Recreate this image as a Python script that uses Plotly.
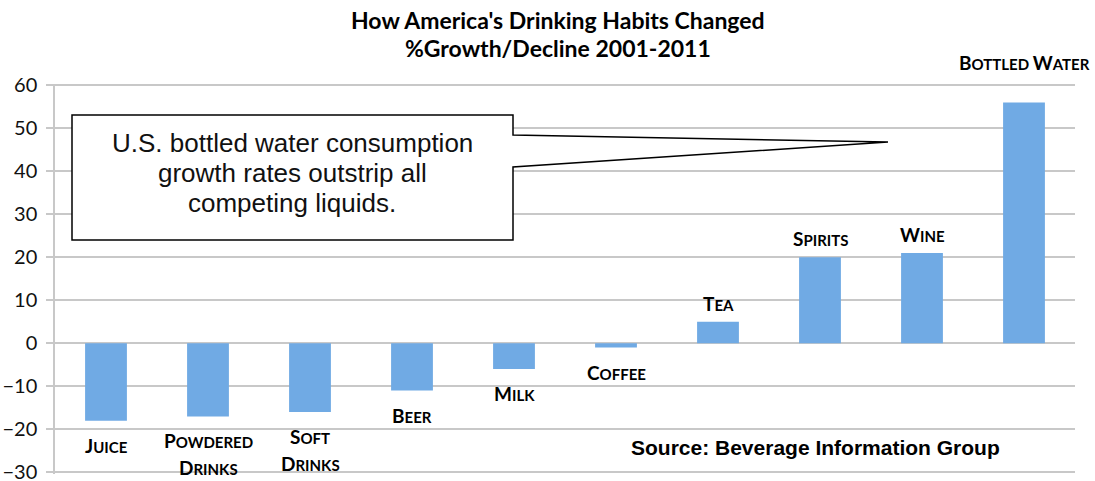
import plotly.graph_objects as go

# ---- data ----
categories = ["Juice", "Powdered Drinks", "Soft Drinks", "Beer", "Milk",
              "Coffee", "Tea", "Spirits", "Wine", "Bottled Water"]
values = [-18, -17, -16, -11, -6, -1, 5, 20, 21, 56]
# small-caps style labels: list of lines, each line (first letter, rest)
label_lines = [
    [("J", "UICE")],
    [("P", "OWDERED"), ("D", "RINKS")],
    [("S", "OFT"), ("D", "RINKS")],
    [("B", "EER")],
    [("M", "ILK")],
    [("C", "OFFEE")],
    [("T", "EA")],
    [("S", "PIRITS")],
    [("W", "INE")],
    [("B", "OTTLED "), ("W", "ATER")],
]
y_ticks = [-30, -20, -10, 0, 10, 20, 30, 40, 50, 60]
title_lines = ["How America's Drinking Habits Changed", "%Growth/Decline 2001-2011"]
callout_lines = ["U.S. bottled water consumption", "growth rates outstrip all", "competing liquids."]
source_text = "Source: Beverage Information Group"

W, H = 1095, 481
ML, MR, MT, MB = 55, 20, 84, 7
PW, PH = W - ML - MR, H - MT - MB
Y_RANGE = [-30.4, 60.3]


def px(x):
    return (x - ML) / PW


def py(y):
    return (H - MB - y) / PH


LABEL_FONT = "Lato"
BIG, SMALL = 19, 15

fig = go.Figure()
fig.add_trace(go.Bar(
    x=categories, y=values,
    marker=dict(color="#70aae4", line=dict(width=0)),
    width=0.41,
    hoverinfo="x+y",
))


def label_html(pairs):
    out = ""
    for f, r in pairs:
        out += f"{f}<span style='font-size:{SMALL}px'>{r}</span>"
    return "<b>" + out + "</b>"


annotations = []
for cat, v, lines in zip(categories, values, label_lines):
    if cat == "Bottled Water":
        annotations.append(dict(
            x=cat, y=v, xref="x", yref="y", yanchor="bottom", yshift=26,
            text=label_html(lines), showarrow=False,
            font=dict(family=LABEL_FONT, size=BIG, color="#000")))
        continue
    for i, pair in enumerate(lines):
        if v < 0:
            annotations.append(dict(
                x=cat, y=v, xref="x", yref="y", yanchor="top",
                yshift=-11 - 27 * i,
                text=label_html([pair]), showarrow=False,
                font=dict(family=LABEL_FONT, size=BIG, color="#000")))
        else:
            annotations.append(dict(
                x=cat, y=v, xref="x", yref="y", yanchor="bottom",
                yshift=5,
                text=label_html([pair]), showarrow=False,
                font=dict(family=LABEL_FONT, size=BIG, color="#000")))

# title
for i, t in enumerate(title_lines):
    annotations.append(dict(x=px(558), y=py(20 + 28 * i), xref="paper", yref="paper",
                            text="<b>" + t + "</b>", showarrow=False,
                            xanchor="center", yanchor="middle",
                            font=dict(family=LABEL_FONT, size=23, color="#000")))
# callout text
for i, t in enumerate(callout_lines):
    annotations.append(dict(x=px(292), y=py(143 + 30 * i), xref="paper", yref="paper",
                            text=t, showarrow=False,
                            xanchor="center", yanchor="middle",
                            font=dict(family="Liberation Sans, Arial", size=26, color="#111")))
# source
annotations.append(dict(x=px(815), y=py(447), xref="paper", yref="paper",
                        text="<b>" + source_text + "</b>", showarrow=False,
                        xanchor="center", yanchor="middle",
                        font=dict(family="Liberation Sans, Arial", size=21, color="#000")))

# callout outline (box + wedge pointer)
pts = [(72, 115), (513, 115), (513, 135), (888, 142), (513, 167), (513, 240), (72, 240)]
path = "M " + " L ".join(f"{px(a):.5f},{py(b):.5f}" for a, b in pts) + " Z"
shapes = [dict(type="path", xref="paper", yref="paper", path=path,
               fillcolor="white", line=dict(color="#000", width=1.5), layer="above")]

fig.update_layout(
    width=W, height=H,
    margin=dict(l=ML, r=MR, t=MT, b=MB, autoexpand=False),
    paper_bgcolor="white", plot_bgcolor="white",
    showlegend=False,
    annotations=annotations,
    shapes=shapes,
    xaxis=dict(range=[-0.5, len(categories) - 0.5], showticklabels=False,
               showgrid=False, zeroline=False,
               showline=False, ticks="", fixedrange=True, automargin=False),
    yaxis=dict(range=Y_RANGE, tickvals=y_ticks, showgrid=True, automargin=False,
               gridcolor="#c8c8c8", gridwidth=1.5, zeroline=True,
               zerolinecolor="#c8c8c8", zerolinewidth=1.5,
               showline=True, linecolor="#c8c8c8", linewidth=1.5,
               ticks="outside", ticklen=7, tickcolor="#c8c8c8", tickwidth=1.5,
               ticklabelstandoff=5, ticklabeloverflow="allow",
               tickfont=dict(family=LABEL_FONT, size=20, color="#111")),
)

fig.write_html("out.html")
